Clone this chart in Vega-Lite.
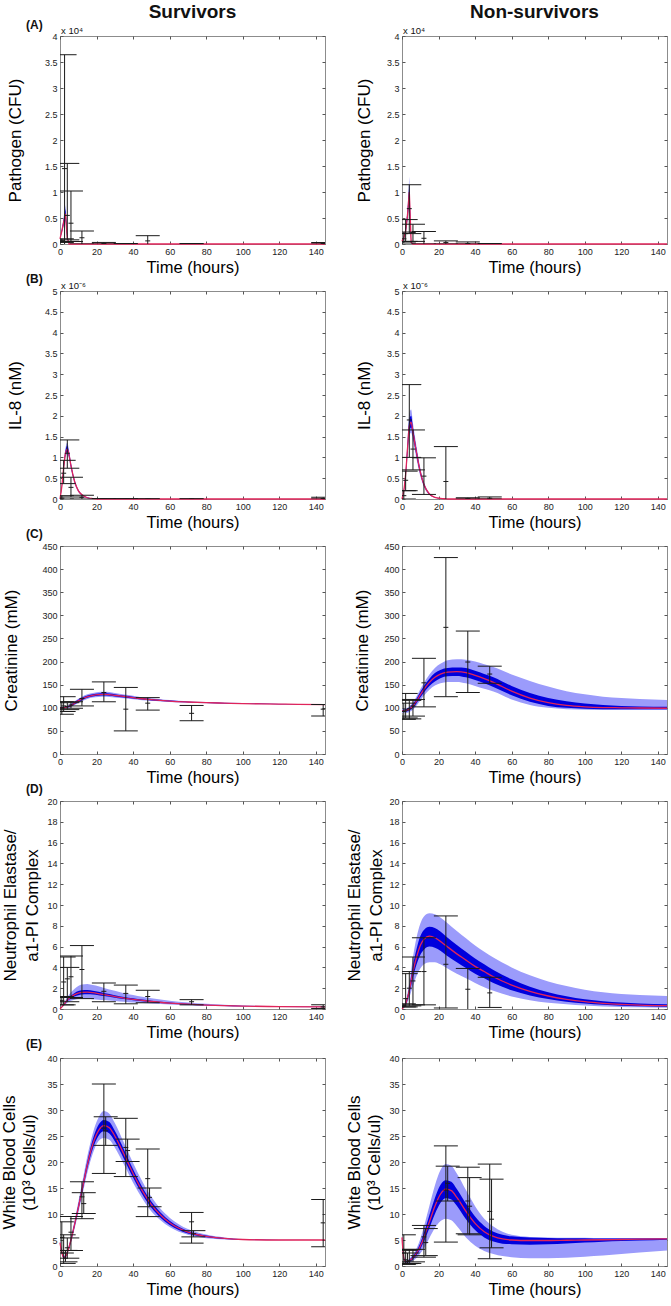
{
"$schema": "https://vega.github.io/schema/vega-lite/v6.json",
"background": "white",
"padding": {"left": 0, "top": 2, "right": 0, "bottom": 0},
"config": {
 "font": "Liberation Sans",
 "view": {"stroke": "#8c8c8c", "strokeWidth": 1},
 "axis": {"domain": false, "grid": false, "tickSize": -3, "tickColor": "#555", "labelFont": "Liberation Sans", "labelFontSize": 9, "labelColor": "#222", "labelPadding": 6, "labelFlush": false, "titleFont": "Liberation Sans", "titleFontSize": 17, "titleFontWeight": "normal", "titleColor": "#000"},
 "axisX": {"titleFontSize": 16.5, "titlePadding": 3, "titleFontWeight": "normal"},
 "axisY": {"titleFontWeight": "normal"},
 "text": {"font": "Liberation Sans", "color": "#111"},
 "tick": {"color": "#1a1a1a", "thickness": 1, "opacity": 1},
 "rule": {"color": "#1a1a1a", "strokeWidth": 1}
},
"datasets": {
 "curves": [
  {"p":"A1","t":0,"m":0.1,"il":0.1,"ih":0.1,"ol":0.09,"oh":0.11},
  {"p":"A1","t":1,"m":0.25,"il":0.23,"ih":0.27,"ol":0.21,"oh":0.29},
  {"p":"A1","t":2,"m":0.42,"il":0.38,"ih":0.47,"ol":0.34,"oh":0.52},
  {"p":"A1","t":3,"m":0.58,"il":0.5,"ih":0.68,"ol":0.45,"oh":0.75},
  {"p":"A1","t":4,"m":0.12,"il":0.1,"ih":0.15,"ol":0.08,"oh":0.18},
  {"p":"A1","t":5,"m":0,"il":0,"ih":0,"ol":0,"oh":0.01},
  {"p":"A1","t":6,"m":0,"il":0,"ih":0,"ol":0,"oh":0},
  {"p":"A1","t":20,"m":0,"il":0,"ih":0,"ol":0,"oh":0},
  {"p":"A1","t":145,"m":0,"il":0,"ih":0,"ol":0,"oh":0},
  {"p":"A2","t":0,"m":0.05,"il":0.05,"ih":0.05,"ol":0.04,"oh":0.06},
  {"p":"A2","t":1,"m":0.12,"il":0.11,"ih":0.13,"ol":0.1,"oh":0.14},
  {"p":"A2","t":2,"m":0.25,"il":0.22,"ih":0.28,"ol":0.2,"oh":0.3},
  {"p":"A2","t":3,"m":0.55,"il":0.48,"ih":0.62,"ol":0.44,"oh":0.68},
  {"p":"A2","t":4,"m":1.0,"il":0.88,"ih":1.15,"ol":0.8,"oh":1.3},
  {"p":"A2","t":5,"m":0.03,"il":0.02,"ih":0.05,"ol":0.01,"oh":0.07},
  {"p":"A2","t":6,"m":0,"il":0,"ih":0,"ol":0,"oh":0},
  {"p":"A2","t":20,"m":0,"il":0,"ih":0,"ol":0,"oh":0},
  {"p":"A2","t":145,"m":0,"il":0,"ih":0,"ol":0,"oh":0},
  {"p":"B1","t":0,"m":0,"il":0,"ih":0,"ol":0,"oh":0},
  {"p":"B1","t":1,"m":0.3,"il":0.28,"ih":0.32,"ol":0.26,"oh":0.34},
  {"p":"B1","t":2,"m":0.75,"il":0.72,"ih":0.79,"ol":0.69,"oh":0.82},
  {"p":"B1","t":3,"m":1.1,"il":1.05,"ih":1.16,"ol":1.0,"oh":1.22},
  {"p":"B1","t":4,"m":1.2,"il":1.13,"ih":1.28,"ol":1.08,"oh":1.35},
  {"p":"B1","t":5,"m":1.05,"il":1.0,"ih":1.11,"ol":0.95,"oh":1.16},
  {"p":"B1","t":6,"m":0.8,"il":0.76,"ih":0.85,"ol":0.72,"oh":0.88},
  {"p":"B1","t":8,"m":0.42,"il":0.4,"ih":0.45,"ol":0.37,"oh":0.47},
  {"p":"B1","t":10,"m":0.2,"il":0.19,"ih":0.22,"ol":0.17,"oh":0.23},
  {"p":"B1","t":12,"m":0.1,"il":0.09,"ih":0.11,"ol":0.08,"oh":0.12},
  {"p":"B1","t":15,"m":0.03,"il":0.03,"ih":0.04,"ol":0.02,"oh":0.04},
  {"p":"B1","t":18,"m":0.01,"il":0.01,"ih":0.01,"ol":0.005,"oh":0.015},
  {"p":"B1","t":21,"m":0,"il":0,"ih":0,"ol":0,"oh":0},
  {"p":"B1","t":145,"m":0,"il":0,"ih":0,"ol":0,"oh":0},
  {"p":"B2","t":0,"m":0,"il":0,"ih":0,"ol":0,"oh":0},
  {"p":"B2","t":1,"m":0.2,"il":0.18,"ih":0.22,"ol":0.16,"oh":0.24},
  {"p":"B2","t":2,"m":0.6,"il":0.55,"ih":0.65,"ol":0.5,"oh":0.7},
  {"p":"B2","t":3,"m":1.2,"il":1.1,"ih":1.3,"ol":1.0,"oh":1.4},
  {"p":"B2","t":4,"m":1.75,"il":1.62,"ih":1.9,"ol":1.5,"oh":2.05},
  {"p":"B2","t":5,"m":1.85,"il":1.72,"ih":2.0,"ol":1.6,"oh":2.15},
  {"p":"B2","t":6,"m":1.6,"il":1.5,"ih":1.72,"ol":1.4,"oh":1.82},
  {"p":"B2","t":8,"m":1.1,"il":1.02,"ih":1.18,"ol":0.95,"oh":1.25},
  {"p":"B2","t":10,"m":0.65,"il":0.6,"ih":0.7,"ol":0.55,"oh":0.75},
  {"p":"B2","t":12,"m":0.35,"il":0.32,"ih":0.38,"ol":0.29,"oh":0.41},
  {"p":"B2","t":15,"m":0.12,"il":0.11,"ih":0.13,"ol":0.1,"oh":0.14},
  {"p":"B2","t":18,"m":0.04,"il":0.035,"ih":0.045,"ol":0.03,"oh":0.05},
  {"p":"B2","t":21,"m":0.015,"il":0.01,"ih":0.02,"ol":0.01,"oh":0.02},
  {"p":"B2","t":24,"m":0.005,"il":0.005,"ih":0.005,"ol":0.005,"oh":0.005},
  {"p":"B2","t":27,"m":0,"il":0,"ih":0,"ol":0,"oh":0},
  {"p":"B2","t":145,"m":0,"il":0,"ih":0,"ol":0,"oh":0},
  {"p":"C1","t":0,"m":100,"il":99.5,"ih":100.5,"ol":99,"oh":101},
  {"p":"C1","t":2,"m":100.5,"il":99.5,"ih":101.5,"ol":98.5,"oh":102.5},
  {"p":"C1","t":4,"m":102,"il":100.5,"ih":103.5,"ol":99.5,"oh":104.5},
  {"p":"C1","t":6,"m":105,"il":103,"ih":107,"ol":101.5,"oh":108.5},
  {"p":"C1","t":8,"m":110,"il":107.5,"ih":112.5,"ol":106,"oh":114},
  {"p":"C1","t":10,"m":115,"il":112.5,"ih":117.5,"ol":110.5,"oh":119.5},
  {"p":"C1","t":12,"m":119,"il":116.5,"ih":121.5,"ol":114,"oh":124},
  {"p":"C1","t":15,"m":124,"il":121.5,"ih":126.5,"ol":119,"oh":129},
  {"p":"C1","t":18,"m":127,"il":124.5,"ih":129.5,"ol":122,"oh":132},
  {"p":"C1","t":21,"m":128.5,"il":126,"ih":131,"ol":123.5,"oh":134},
  {"p":"C1","t":24,"m":129,"il":126.5,"ih":131.5,"ol":124,"oh":134.5},
  {"p":"C1","t":27,"m":128.5,"il":126,"ih":131,"ol":123.5,"oh":134},
  {"p":"C1","t":30,"m":127,"il":124.5,"ih":129.5,"ol":122.5,"oh":132},
  {"p":"C1","t":35,"m":124.5,"il":122.5,"ih":126.5,"ol":120.5,"oh":128.5},
  {"p":"C1","t":40,"m":122,"il":120,"ih":124,"ol":118.5,"oh":126},
  {"p":"C1","t":45,"m":119.5,"il":118,"ih":121,"ol":116.5,"oh":122.5},
  {"p":"C1","t":50,"m":117.5,"il":116,"ih":119,"ol":115,"oh":120.5},
  {"p":"C1","t":55,"m":116,"il":114.8,"ih":117.2,"ol":113.8,"oh":118.5},
  {"p":"C1","t":60,"m":114.5,"il":113.5,"ih":115.5,"ol":112.5,"oh":116.8},
  {"p":"C1","t":70,"m":112.5,"il":111.7,"ih":113.3,"ol":111,"oh":114.2},
  {"p":"C1","t":80,"m":111,"il":110.3,"ih":111.7,"ol":109.7,"oh":112.5},
  {"p":"C1","t":90,"m":110,"il":109.4,"ih":110.6,"ol":108.8,"oh":111.3},
  {"p":"C1","t":100,"m":109,"il":108.5,"ih":109.5,"ol":108,"oh":110.2},
  {"p":"C1","t":110,"m":108.5,"il":108,"ih":109,"ol":107.6,"oh":109.5},
  {"p":"C1","t":120,"m":108,"il":107.6,"ih":108.4,"ol":107.2,"oh":108.9},
  {"p":"C1","t":130,"m":107.5,"il":107.1,"ih":107.9,"ol":106.8,"oh":108.3},
  {"p":"C1","t":145,"m":107,"il":106.7,"ih":107.3,"ol":106.4,"oh":107.6},
  {"p":"C2","t":0,"m":93,"il":91,"ih":95,"ol":89,"oh":97},
  {"p":"C2","t":2,"m":94,"il":91.5,"ih":96.5,"ol":89,"oh":99},
  {"p":"C2","t":4,"m":97,"il":94,"ih":100,"ol":91,"oh":103},
  {"p":"C2","t":6,"m":104,"il":100,"ih":108,"ol":96,"oh":112},
  {"p":"C2","t":8,"m":115,"il":110,"ih":120,"ol":105,"oh":125},
  {"p":"C2","t":10,"m":128,"il":122,"ih":134,"ol":116,"oh":140},
  {"p":"C2","t":12,"m":140,"il":133,"ih":147,"ol":126,"oh":154},
  {"p":"C2","t":15,"m":155,"il":147,"ih":163,"ol":139,"oh":172},
  {"p":"C2","t":18,"m":166,"il":157,"ih":175,"ol":148,"oh":186},
  {"p":"C2","t":21,"m":173,"il":164,"ih":182,"ol":153,"oh":195},
  {"p":"C2","t":25,"m":177,"il":168,"ih":186,"ol":156,"oh":203},
  {"p":"C2","t":30,"m":178,"il":169,"ih":187,"ol":156,"oh":205},
  {"p":"C2","t":35,"m":176,"il":166,"ih":186,"ol":153,"oh":204},
  {"p":"C2","t":40,"m":170,"il":160,"ih":180,"ol":147,"oh":200},
  {"p":"C2","t":45,"m":163,"il":153,"ih":173,"ol":141,"oh":194},
  {"p":"C2","t":50,"m":155,"il":145,"ih":166,"ol":135,"oh":188},
  {"p":"C2","t":60,"m":136,"il":127,"ih":147,"ol":118,"oh":172},
  {"p":"C2","t":70,"m":121,"il":113,"ih":132,"ol":106,"oh":158},
  {"p":"C2","t":80,"m":111,"il":104,"ih":121,"ol":100,"oh":146},
  {"p":"C2","t":90,"m":105,"il":100,"ih":114,"ol":97,"oh":136},
  {"p":"C2","t":100,"m":102,"il":98,"ih":109,"ol":96,"oh":129},
  {"p":"C2","t":110,"m":100.5,"il":97,"ih":106,"ol":95,"oh":124},
  {"p":"C2","t":120,"m":100,"il":97,"ih":104,"ol":95,"oh":121},
  {"p":"C2","t":130,"m":99.5,"il":97,"ih":103,"ol":95,"oh":119},
  {"p":"C2","t":145,"m":99,"il":97,"ih":102,"ol":95,"oh":117},
  {"p":"D1","t":0,"m":0,"il":0,"ih":0,"ol":0,"oh":0},
  {"p":"D1","t":2,"m":0.4,"il":0.35,"ih":0.45,"ol":0.3,"oh":0.5},
  {"p":"D1","t":4,"m":0.85,"il":0.75,"ih":0.95,"ol":0.6,"oh":1.15},
  {"p":"D1","t":6,"m":1.15,"il":1.0,"ih":1.3,"ol":0.8,"oh":1.6},
  {"p":"D1","t":8,"m":1.38,"il":1.2,"ih":1.55,"ol":0.9,"oh":1.95},
  {"p":"D1","t":10,"m":1.52,"il":1.33,"ih":1.72,"ol":0.95,"oh":2.2},
  {"p":"D1","t":12,"m":1.6,"il":1.4,"ih":1.8,"ol":0.95,"oh":2.35},
  {"p":"D1","t":15,"m":1.62,"il":1.43,"ih":1.82,"ol":0.95,"oh":2.4},
  {"p":"D1","t":18,"m":1.57,"il":1.4,"ih":1.75,"ol":0.93,"oh":2.3},
  {"p":"D1","t":21,"m":1.48,"il":1.33,"ih":1.65,"ol":0.9,"oh":2.18},
  {"p":"D1","t":24,"m":1.38,"il":1.24,"ih":1.53,"ol":0.86,"oh":2.03},
  {"p":"D1","t":30,"m":1.2,"il":1.08,"ih":1.33,"ol":0.78,"oh":1.75},
  {"p":"D1","t":35,"m":1.05,"il":0.95,"ih":1.16,"ol":0.7,"oh":1.52},
  {"p":"D1","t":40,"m":0.93,"il":0.84,"ih":1.03,"ol":0.63,"oh":1.35},
  {"p":"D1","t":45,"m":0.82,"il":0.74,"ih":0.91,"ol":0.57,"oh":1.18},
  {"p":"D1","t":50,"m":0.72,"il":0.65,"ih":0.8,"ol":0.52,"oh":1.03},
  {"p":"D1","t":60,"m":0.57,"il":0.52,"ih":0.63,"ol":0.43,"oh":0.8},
  {"p":"D1","t":70,"m":0.46,"il":0.42,"ih":0.51,"ol":0.36,"oh":0.63},
  {"p":"D1","t":80,"m":0.38,"il":0.35,"ih":0.42,"ol":0.31,"oh":0.51},
  {"p":"D1","t":90,"m":0.32,"il":0.3,"ih":0.35,"ol":0.27,"oh":0.42},
  {"p":"D1","t":100,"m":0.28,"il":0.26,"ih":0.3,"ol":0.24,"oh":0.35},
  {"p":"D1","t":120,"m":0.23,"il":0.22,"ih":0.24,"ol":0.2,"oh":0.27},
  {"p":"D1","t":145,"m":0.2,"il":0.19,"ih":0.21,"ol":0.18,"oh":0.23},
  {"p":"D2","t":0,"m":0,"il":0,"ih":0,"ol":0,"oh":0},
  {"p":"D2","t":2,"m":0.5,"il":0.4,"ih":0.6,"ol":0.3,"oh":0.7},
  {"p":"D2","t":4,"m":1.8,"il":1.5,"ih":2.1,"ol":1.1,"oh":2.5},
  {"p":"D2","t":6,"m":3.6,"il":3.0,"ih":4.2,"ol":2.2,"oh":5.0},
  {"p":"D2","t":8,"m":5.0,"il":4.3,"ih":5.8,"ol":3.2,"oh":6.9},
  {"p":"D2","t":10,"m":6.1,"il":5.2,"ih":7.0,"ol":3.9,"oh":8.2},
  {"p":"D2","t":12,"m":6.7,"il":5.7,"ih":7.6,"ol":4.3,"oh":8.9},
  {"p":"D2","t":15,"m":7.0,"il":6.0,"ih":7.9,"ol":4.5,"oh":9.2},
  {"p":"D2","t":18,"m":6.85,"il":5.9,"ih":7.8,"ol":4.5,"oh":9.1},
  {"p":"D2","t":21,"m":6.5,"il":5.6,"ih":7.45,"ol":4.3,"oh":8.8},
  {"p":"D2","t":24,"m":6.1,"il":5.2,"ih":7.0,"ol":4.0,"oh":8.4},
  {"p":"D2","t":30,"m":5.3,"il":4.5,"ih":6.15,"ol":3.4,"oh":7.5},
  {"p":"D2","t":35,"m":4.7,"il":3.95,"ih":5.5,"ol":2.95,"oh":6.8},
  {"p":"D2","t":40,"m":4.1,"il":3.4,"ih":4.85,"ol":2.5,"oh":6.1},
  {"p":"D2","t":45,"m":3.6,"il":2.95,"ih":4.3,"ol":2.1,"oh":5.5},
  {"p":"D2","t":50,"m":3.1,"il":2.5,"ih":3.75,"ol":1.75,"oh":4.95},
  {"p":"D2","t":60,"m":2.3,"il":1.8,"ih":2.85,"ol":1.2,"oh":4.0},
  {"p":"D2","t":70,"m":1.7,"il":1.3,"ih":2.15,"ol":0.85,"oh":3.25},
  {"p":"D2","t":80,"m":1.25,"il":0.95,"ih":1.62,"ol":0.6,"oh":2.65},
  {"p":"D2","t":90,"m":0.93,"il":0.7,"ih":1.22,"ol":0.45,"oh":2.2},
  {"p":"D2","t":100,"m":0.7,"il":0.52,"ih":0.93,"ol":0.33,"oh":1.85},
  {"p":"D2","t":110,"m":0.55,"il":0.4,"ih":0.75,"ol":0.25,"oh":1.6},
  {"p":"D2","t":120,"m":0.45,"il":0.32,"ih":0.62,"ol":0.2,"oh":1.45},
  {"p":"D2","t":130,"m":0.38,"il":0.27,"ih":0.53,"ol":0.16,"oh":1.35},
  {"p":"D2","t":145,"m":0.32,"il":0.22,"ih":0.45,"ol":0.12,"oh":1.25},
  {"p":"E1","t":0,"m":4.5,"il":4.3,"ih":4.7,"ol":4.1,"oh":4.9},
  {"p":"E1","t":1,"m":2.6,"il":2.4,"ih":2.8,"ol":2.2,"oh":3.0},
  {"p":"E1","t":2,"m":1.7,"il":1.55,"ih":1.85,"ol":1.4,"oh":2.0},
  {"p":"E1","t":3,"m":1.8,"il":1.65,"ih":1.95,"ol":1.5,"oh":2.1},
  {"p":"E1","t":4,"m":2.6,"il":2.4,"ih":2.8,"ol":2.2,"oh":3.0},
  {"p":"E1","t":6,"m":5.0,"il":4.7,"ih":5.3,"ol":4.4,"oh":5.6},
  {"p":"E1","t":8,"m":8.0,"il":7.6,"ih":8.4,"ol":7.2,"oh":8.8},
  {"p":"E1","t":10,"m":11.2,"il":10.7,"ih":11.7,"ol":10.2,"oh":12.3},
  {"p":"E1","t":12,"m":14.5,"il":13.9,"ih":15.1,"ol":13.3,"oh":15.8},
  {"p":"E1","t":15,"m":19.5,"il":18.8,"ih":20.2,"ol":18.0,"oh":21.2},
  {"p":"E1","t":18,"m":23.5,"il":22.6,"ih":24.4,"ol":21.7,"oh":25.6},
  {"p":"E1","t":21,"m":26.0,"il":25.0,"ih":27.1,"ol":24.0,"oh":28.5},
  {"p":"E1","t":24,"m":27.0,"il":25.9,"ih":28.1,"ol":24.6,"oh":29.8},
  {"p":"E1","t":27,"m":26.6,"il":25.5,"ih":27.7,"ol":24.3,"oh":29.3},
  {"p":"E1","t":30,"m":25.0,"il":24.0,"ih":26.0,"ol":22.8,"oh":27.5},
  {"p":"E1","t":35,"m":21.5,"il":20.6,"ih":22.4,"ol":19.5,"oh":23.7},
  {"p":"E1","t":40,"m":17.8,"il":17.0,"ih":18.6,"ol":16.0,"oh":19.8},
  {"p":"E1","t":45,"m":14.5,"il":13.8,"ih":15.2,"ol":13.0,"oh":16.3},
  {"p":"E1","t":50,"m":11.8,"il":11.2,"ih":12.4,"ol":10.5,"oh":13.3},
  {"p":"E1","t":55,"m":9.8,"il":9.3,"ih":10.3,"ol":8.8,"oh":11.0},
  {"p":"E1","t":60,"m":8.3,"il":7.9,"ih":8.7,"ol":7.5,"oh":9.3},
  {"p":"E1","t":70,"m":6.5,"il":6.25,"ih":6.75,"ol":6.0,"oh":7.1},
  {"p":"E1","t":80,"m":5.7,"il":5.55,"ih":5.85,"ol":5.35,"oh":6.05},
  {"p":"E1","t":90,"m":5.3,"il":5.2,"ih":5.4,"ol":5.1,"oh":5.5},
  {"p":"E1","t":100,"m":5.1,"il":5.05,"ih":5.15,"ol":5.0,"oh":5.2},
  {"p":"E1","t":120,"m":5.0,"il":4.98,"ih":5.02,"ol":4.95,"oh":5.05},
  {"p":"E1","t":145,"m":5.0,"il":4.99,"ih":5.01,"ol":4.98,"oh":5.02},
  {"p":"E2","t":0,"m":5.5,"il":5.3,"ih":5.7,"ol":5.1,"oh":5.9},
  {"p":"E2","t":1,"m":1.5,"il":1.3,"ih":1.7,"ol":1.1,"oh":1.9},
  {"p":"E2","t":2,"m":0.8,"il":0.65,"ih":0.95,"ol":0.5,"oh":1.1},
  {"p":"E2","t":4,"m":1.0,"il":0.8,"ih":1.2,"ol":0.6,"oh":1.4},
  {"p":"E2","t":6,"m":1.6,"il":1.3,"ih":1.9,"ol":1.0,"oh":2.2},
  {"p":"E2","t":8,"m":2.5,"il":2.1,"ih":2.9,"ol":1.6,"oh":3.4},
  {"p":"E2","t":10,"m":3.8,"il":3.2,"ih":4.4,"ol":2.4,"oh":5.2},
  {"p":"E2","t":12,"m":5.5,"il":4.7,"ih":6.4,"ol":3.4,"oh":7.6},
  {"p":"E2","t":15,"m":8.5,"il":7.3,"ih":9.8,"ol":5.4,"oh":11.6},
  {"p":"E2","t":18,"m":11.5,"il":10.0,"ih":13.1,"ol":7.3,"oh":15.5},
  {"p":"E2","t":21,"m":13.8,"il":12.1,"ih":15.6,"ol":8.6,"oh":18.4},
  {"p":"E2","t":24,"m":14.8,"il":13.1,"ih":16.5,"ol":9.1,"oh":19.6},
  {"p":"E2","t":27,"m":14.5,"il":12.8,"ih":16.2,"ol":8.8,"oh":19.3},
  {"p":"E2","t":30,"m":13.2,"il":11.6,"ih":14.8,"ol":7.7,"oh":17.8},
  {"p":"E2","t":35,"m":10.5,"il":9.0,"ih":12.0,"ol":5.5,"oh":14.6},
  {"p":"E2","t":40,"m":8.2,"il":6.9,"ih":9.5,"ol":3.9,"oh":11.5},
  {"p":"E2","t":45,"m":6.6,"il":5.5,"ih":7.7,"ol":2.9,"oh":9.1},
  {"p":"E2","t":50,"m":5.7,"il":4.7,"ih":6.6,"ol":2.3,"oh":7.6},
  {"p":"E2","t":55,"m":5.2,"il":4.3,"ih":6.0,"ol":1.9,"oh":6.6},
  {"p":"E2","t":60,"m":5.0,"il":4.2,"ih":5.7,"ol":1.7,"oh":6.0},
  {"p":"E2","t":70,"m":4.9,"il":4.1,"ih":5.5,"ol":1.5,"oh":5.6},
  {"p":"E2","t":80,"m":4.9,"il":4.2,"ih":5.4,"ol":1.5,"oh":5.5},
  {"p":"E2","t":90,"m":4.95,"il":4.35,"ih":5.35,"ol":1.6,"oh":5.45},
  {"p":"E2","t":100,"m":5.0,"il":4.5,"ih":5.35,"ol":1.8,"oh":5.45},
  {"p":"E2","t":110,"m":5.05,"il":4.65,"ih":5.3,"ol":2.0,"oh":5.4},
  {"p":"E2","t":120,"m":5.1,"il":4.8,"ih":5.3,"ol":2.3,"oh":5.4},
  {"p":"E2","t":130,"m":5.15,"il":4.9,"ih":5.3,"ol":2.6,"oh":5.4},
  {"p":"E2","t":145,"m":5.2,"il":5.05,"ih":5.3,"ol":3.0,"oh":5.4}
 ],
 "errs": [
  {"p":"A1","t":1,"m":0.07,"lo":0.03,"hi":0.1},
  {"p":"A1","t":2.5,"m":1.45,"lo":-0.75,"hi":3.64},
  {"p":"A1","t":4,"m":0.55,"lo":0.08,"hi":1.55},
  {"p":"A1","t":6,"m":0.4,"lo":0.05,"hi":1.02},
  {"p":"A1","t":12,"m":0.12,"lo":0,"hi":0.25},
  {"p":"A1","t":24,"m":0.01,"lo":0,"hi":0.03},
  {"p":"A1","t":36,"m":0,"lo":0,"hi":0.01},
  {"p":"A1","t":48,"m":0.06,"lo":-0.05,"hi":0.16},
  {"p":"A1","t":72,"m":0,"lo":0,"hi":0.01},
  {"p":"A1","t":144,"m":0.01,"lo":0,"hi":0.03},
  {"p":"A2","t":1,"m":0.1,"lo":0.02,"hi":0.23},
  {"p":"A2","t":2,"m":0.2,"lo":0.05,"hi":0.47},
  {"p":"A2","t":4,"m":0.68,"lo":0.2,"hi":1.14},
  {"p":"A2","t":6,"m":0.22,"lo":0.05,"hi":0.38},
  {"p":"A2","t":12,"m":0.11,"lo":0,"hi":0.24},
  {"p":"A2","t":24,"m":0.03,"lo":0,"hi":0.06},
  {"p":"A2","t":36,"m":0.01,"lo":0,"hi":0.04},
  {"p":"A2","t":48,"m":0,"lo":0,"hi":0.01},
  {"p":"B1","t":1,"m":0.02,"lo":0,"hi":0.08},
  {"p":"B1","t":2,"m":0.62,"lo":0.37,"hi":0.93},
  {"p":"B1","t":4,"m":1.1,"lo":0.74,"hi":1.42},
  {"p":"B1","t":6,"m":0.28,"lo":0.05,"hi":0.52},
  {"p":"B1","t":12,"m":0.04,"lo":0,"hi":0.09},
  {"p":"B1","t":24,"m":0,"lo":0,"hi":0.01},
  {"p":"B1","t":36,"m":0,"lo":0,"hi":0.01},
  {"p":"B1","t":48,"m":0,"lo":0,"hi":0.005},
  {"p":"B1","t":72,"m":0,"lo":0,"hi":0.005},
  {"p":"B1","t":144,"m":0.01,"lo":0,"hi":0.04},
  {"p":"B2","t":1,"m":0.08,"lo":0,"hi":0.2},
  {"p":"B2","t":2,"m":0.45,"lo":0.2,"hi":0.67},
  {"p":"B2","t":4,"m":1.9,"lo":1.0,"hi":2.75},
  {"p":"B2","t":6,"m":1.2,"lo":0.7,"hi":1.66},
  {"p":"B2","t":12,"m":0.55,"lo":0.11,"hi":0.99},
  {"p":"B2","t":24,"m":0.42,"lo":-0.4,"hi":1.26},
  {"p":"B2","t":36,"m":0.01,"lo":0,"hi":0.03},
  {"p":"B2","t":48,"m":0.02,"lo":0,"hi":0.05},
  {"p":"C1","t":1,"m":100,"lo":86,"hi":113},
  {"p":"C1","t":2,"m":104,"lo":92,"hi":124},
  {"p":"C1","t":4,"m":103,"lo":96,"hi":111},
  {"p":"C1","t":6,"m":106,"lo":99,"hi":113},
  {"p":"C1","t":12,"m":120,"lo":104,"hi":140},
  {"p":"C1","t":24,"m":133,"lo":113,"hi":156},
  {"p":"C1","t":36,"m":97,"lo":50,"hi":144},
  {"p":"C1","t":48,"m":110,"lo":95,"hi":122},
  {"p":"C1","t":72,"m":88,"lo":72,"hi":105},
  {"p":"C1","t":144,"m":97,"lo":82,"hi":107},
  {"p":"C2","t":1,"m":92,"lo":75,"hi":110},
  {"p":"C2","t":2,"m":95,"lo":78,"hi":131},
  {"p":"C2","t":4,"m":98,"lo":76,"hi":116},
  {"p":"C2","t":6,"m":104,"lo":82,"hi":118},
  {"p":"C2","t":12,"m":154,"lo":102,"hi":207},
  {"p":"C2","t":24,"m":274,"lo":124,"hi":425},
  {"p":"C2","t":36,"m":199,"lo":133,"hi":266},
  {"p":"C2","t":48,"m":173,"lo":153,"hi":190},
  {"p":"D1","t":1,"m":0.8,"lo":0.4,"hi":1.2},
  {"p":"D1","t":2,"m":2.6,"lo":0.4,"hi":5.0},
  {"p":"D1","t":4,"m":2.9,"lo":0.7,"hi":4.0},
  {"p":"D1","t":6,"m":3.1,"lo":1.1,"hi":5.1},
  {"p":"D1","t":12,"m":3.8,"lo":1.0,"hi":6.1},
  {"p":"D1","t":24,"m":1.7,"lo":0.7,"hi":2.5},
  {"p":"D1","t":36,"m":1.5,"lo":0.5,"hi":2.3},
  {"p":"D1","t":48,"m":1.2,"lo":0.6,"hi":1.8},
  {"p":"D1","t":72,"m":0.7,"lo":0.4,"hi":0.9},
  {"p":"D1","t":144,"m":0.2,"lo":0.05,"hi":0.4},
  {"p":"D2","t":1,"m":0.3,"lo":0.2,"hi":0.5},
  {"p":"D2","t":2,"m":1.0,"lo":0.2,"hi":3.4},
  {"p":"D2","t":4,"m":2.0,"lo":0.3,"hi":3.6},
  {"p":"D2","t":6,"m":2.7,"lo":0.4,"hi":5.0},
  {"p":"D2","t":12,"m":3.6,"lo":0.4,"hi":6.85},
  {"p":"D2","t":24,"m":4.3,"lo":0.1,"hi":8.95},
  {"p":"D2","t":36,"m":1.9,"lo":-0.2,"hi":3.9},
  {"p":"D2","t":48,"m":1.55,"lo":0.15,"hi":3.05},
  {"p":"E1","t":1,"m":5.5,"lo":2.5,"hi":8.5},
  {"p":"E1","t":2,"m":2.5,"lo":0.5,"hi":6.0},
  {"p":"E1","t":3,"m":1.5,"lo":0.8,"hi":3.0},
  {"p":"E1","t":4,"m":3.5,"lo":1.5,"hi":5.4},
  {"p":"E1","t":6,"m":6.5,"lo":3.0,"hi":9.5},
  {"p":"E1","t":12,"m":13.3,"lo":9.1,"hi":16.2},
  {"p":"E1","t":13,"m":12.0,"lo":10.1,"hi":14.1},
  {"p":"E1","t":24,"m":26.5,"lo":17.8,"hi":35.0},
  {"p":"E1","t":25,"m":26.0,"lo":23.2,"hi":28.7},
  {"p":"E1","t":36,"m":22.8,"lo":17.2,"hi":28.4},
  {"p":"E1","t":37,"m":22.2,"lo":20.1,"hi":24.4},
  {"p":"E1","t":48,"m":16.8,"lo":9.5,"hi":22.5},
  {"p":"E1","t":49,"m":13.2,"lo":11.4,"hi":15.0},
  {"p":"E1","t":72,"m":8.5,"lo":4.4,"hi":10.3},
  {"p":"E1","t":73,"m":6.2,"lo":5.6,"hi":6.8},
  {"p":"E1","t":144,"m":8.3,"lo":3.7,"hi":12.8},
  {"p":"E2","t":1,"m":2.5,"lo":0.3,"hi":6.0},
  {"p":"E2","t":2,"m":1.2,"lo":0.45,"hi":3.0},
  {"p":"E2","t":3,"m":0.9,"lo":0.5,"hi":2.5},
  {"p":"E2","t":4,"m":1.0,"lo":0.5,"hi":3.2},
  {"p":"E2","t":6,"m":2.0,"lo":0.8,"hi":3.2},
  {"p":"E2","t":12,"m":5.6,"lo":1.7,"hi":7.8},
  {"p":"E2","t":13,"m":4.5,"lo":2.0,"hi":7.2},
  {"p":"E2","t":24,"m":14.6,"lo":4.6,"hi":23.1},
  {"p":"E2","t":25,"m":15.9,"lo":12.5,"hi":19.2},
  {"p":"E2","t":36,"m":12.5,"lo":6.2,"hi":19.0},
  {"p":"E2","t":37,"m":11.5,"lo":6.0,"hi":17.0},
  {"p":"E2","t":48,"m":10.5,"lo":1.4,"hi":19.6},
  {"p":"E2","t":49,"m":9.0,"lo":3.5,"hi":16.7}
 ]
},
"columns": 2,
"spacing": {"row": -4, "column": 16},
"concat": [
 {"width": 265, "height": 208, "resolve": {"axis": {"x": "independent", "y": "independent"}},
  "layer": [
   {"data": {"name": "curves"}, "transform": [{"filter": "datum.p=='A1'"}], "mark": {"type": "area", "color": "#9b9bfb", "interpolate": "linear"},
    "encoding": {"x": {"field": "t", "type": "quantitative", "scale": {"domain": [0,145]}, "axis": {"values": [0,20,40,60,80,100,120,140], "title": "Time (hours)"}},
     "y": {"field": "ol", "type": "quantitative", "scale": {"domain": [0,4]}, "axis": {"values": [0,0.5,1,1.5,2,2.5,3,3.5,4], "format": "~g", "title": "Pathogen (CFU)", "titlePadding": 20}}, "y2": {"field": "oh"}}},
   {"data": {"name": "curves"}, "transform": [{"filter": "datum.p=='A1'"}], "mark": {"type": "area", "color": "#0000dd", "interpolate": "linear"},
    "encoding": {"x": {"field": "t", "type": "quantitative", "scale": {"domain": [0,145]}, "axis": {"orient": "top", "values": [0,20,40,60,80,100,120,140], "labels": false, "title": null}},
     "y": {"field": "il", "type": "quantitative", "scale": {"domain": [0,4]}, "axis": {"orient": "right", "values": [0,0.5,1,1.5,2,2.5,3,3.5,4], "labels": false, "title": null}}, "y2": {"field": "ih"}}},
   {"data": {"name": "curves"}, "transform": [{"filter": "datum.p=='A1'"}], "mark": {"type": "line", "color": "#e0245a", "strokeWidth": 1.3, "interpolate": "linear"},
    "encoding": {"x": {"field": "t", "type": "quantitative", "scale": {"domain": [0,145]}, "axis": null}, "y": {"field": "m", "type": "quantitative", "scale": {"domain": [0,4]}, "axis": null}}},
   {"data": {"name": "errs"}, "transform": [{"filter": "datum.p=='A1'"}], "mark": {"type": "rule", "clip": true},
    "encoding": {"x": {"field": "t", "type": "quantitative", "scale": {"domain": [0,145]}, "axis": null}, "y": {"field": "lo", "type": "quantitative", "scale": {"domain": [0,4]}, "axis": null}, "y2": {"field": "hi"}}},
   {"data": {"name": "errs"}, "transform": [{"filter": "datum.p=='A1'"}], "mark": {"type": "tick", "orient": "horizontal", "size": 24, "clip": true},
    "encoding": {"x": {"field": "t", "type": "quantitative", "scale": {"domain": [0,145]}, "axis": null}, "y": {"field": "lo", "type": "quantitative", "scale": {"domain": [0,4]}, "axis": null}}},
   {"data": {"name": "errs"}, "transform": [{"filter": "datum.p=='A1'"}], "mark": {"type": "tick", "orient": "horizontal", "size": 24, "clip": true},
    "encoding": {"x": {"field": "t", "type": "quantitative", "scale": {"domain": [0,145]}, "axis": null}, "y": {"field": "hi", "type": "quantitative", "scale": {"domain": [0,4]}, "axis": null}}},
   {"data": {"name": "errs"}, "transform": [{"filter": "datum.p=='A1'"}], "mark": {"type": "tick", "orient": "horizontal", "size": 5, "clip": true},
    "encoding": {"x": {"field": "t", "type": "quantitative", "scale": {"domain": [0,145]}, "axis": null}, "y": {"field": "m", "type": "quantitative", "scale": {"domain": [0,4]}, "axis": null}}},
   {"data": {"values": [{}]}, "mark": {"type": "text", "align": "left", "baseline": "bottom", "fontSize": 9.5, "dx": 1},
    "encoding": {"x": {"datum": 0, "type": "quantitative", "scale": {"domain": [0,145]}, "axis": null}, "y": {"datum": 4, "type": "quantitative", "scale": {"domain": [0,4]}, "axis": null}, "text": {"value": "x 10⁴"}}},
   {"data": {"values": [{}]}, "mark": {"type": "text", "align": "left", "baseline": "bottom", "fontSize": 12, "fontWeight": "bold", "dx": -34, "dy": -4},
    "encoding": {"x": {"datum": 0, "type": "quantitative", "scale": {"domain": [0,145]}, "axis": null}, "y": {"datum": 4, "type": "quantitative", "scale": {"domain": [0,4]}, "axis": null}, "text": {"value": "(A)"}}},
   {"data": {"values": [{}]}, "mark": {"type": "text", "align": "center", "baseline": "alphabetic", "fontSize": 19, "fontWeight": "bold", "dy": -18},
    "encoding": {"x": {"datum": 72.5, "type": "quantitative", "scale": {"domain": [0,145]}, "axis": null}, "y": {"datum": 4, "type": "quantitative", "scale": {"domain": [0,4]}, "axis": null}, "text": {"value": "Survivors"}}}
  ]},
 {"width": 265, "height": 208, "resolve": {"axis": {"x": "independent", "y": "independent"}},
  "layer": [
   {"data": {"name": "curves"}, "transform": [{"filter": "datum.p=='A2'"}], "mark": {"type": "area", "color": "#9b9bfb", "interpolate": "linear"},
    "encoding": {"x": {"field": "t", "type": "quantitative", "scale": {"domain": [0,145]}, "axis": {"values": [0,20,40,60,80,100,120,140], "title": "Time (hours)"}},
     "y": {"field": "ol", "type": "quantitative", "scale": {"domain": [0,4]}, "axis": {"values": [0,0.5,1,1.5,2,2.5,3,3.5,4], "format": "~g", "title": "Pathogen (CFU)", "titlePadding": 13}}, "y2": {"field": "oh"}}},
   {"data": {"name": "curves"}, "transform": [{"filter": "datum.p=='A2'"}], "mark": {"type": "area", "color": "#0000dd", "interpolate": "linear"},
    "encoding": {"x": {"field": "t", "type": "quantitative", "scale": {"domain": [0,145]}, "axis": {"orient": "top", "values": [0,20,40,60,80,100,120,140], "labels": false, "title": null}},
     "y": {"field": "il", "type": "quantitative", "scale": {"domain": [0,4]}, "axis": {"orient": "right", "values": [0,0.5,1,1.5,2,2.5,3,3.5,4], "labels": false, "title": null}}, "y2": {"field": "ih"}}},
   {"data": {"name": "curves"}, "transform": [{"filter": "datum.p=='A2'"}], "mark": {"type": "line", "color": "#e0245a", "strokeWidth": 1.3, "interpolate": "linear"},
    "encoding": {"x": {"field": "t", "type": "quantitative", "scale": {"domain": [0,145]}, "axis": null}, "y": {"field": "m", "type": "quantitative", "scale": {"domain": [0,4]}, "axis": null}}},
   {"data": {"name": "errs"}, "transform": [{"filter": "datum.p=='A2'"}], "mark": {"type": "rule", "clip": true},
    "encoding": {"x": {"field": "t", "type": "quantitative", "scale": {"domain": [0,145]}, "axis": null}, "y": {"field": "lo", "type": "quantitative", "scale": {"domain": [0,4]}, "axis": null}, "y2": {"field": "hi"}}},
   {"data": {"name": "errs"}, "transform": [{"filter": "datum.p=='A2'"}], "mark": {"type": "tick", "orient": "horizontal", "size": 24, "clip": true},
    "encoding": {"x": {"field": "t", "type": "quantitative", "scale": {"domain": [0,145]}, "axis": null}, "y": {"field": "lo", "type": "quantitative", "scale": {"domain": [0,4]}, "axis": null}}},
   {"data": {"name": "errs"}, "transform": [{"filter": "datum.p=='A2'"}], "mark": {"type": "tick", "orient": "horizontal", "size": 24, "clip": true},
    "encoding": {"x": {"field": "t", "type": "quantitative", "scale": {"domain": [0,145]}, "axis": null}, "y": {"field": "hi", "type": "quantitative", "scale": {"domain": [0,4]}, "axis": null}}},
   {"data": {"name": "errs"}, "transform": [{"filter": "datum.p=='A2'"}], "mark": {"type": "tick", "orient": "horizontal", "size": 5, "clip": true},
    "encoding": {"x": {"field": "t", "type": "quantitative", "scale": {"domain": [0,145]}, "axis": null}, "y": {"field": "m", "type": "quantitative", "scale": {"domain": [0,4]}, "axis": null}}},
   {"data": {"values": [{}]}, "mark": {"type": "text", "align": "left", "baseline": "bottom", "fontSize": 9.5, "dx": 1},
    "encoding": {"x": {"datum": 0, "type": "quantitative", "scale": {"domain": [0,145]}, "axis": null}, "y": {"datum": 4, "type": "quantitative", "scale": {"domain": [0,4]}, "axis": null}, "text": {"value": "x 10⁴"}}},
   {"data": {"values": [{}]}, "mark": {"type": "text", "align": "center", "baseline": "alphabetic", "fontSize": 19, "fontWeight": "bold", "dy": -18},
    "encoding": {"x": {"datum": 72.5, "type": "quantitative", "scale": {"domain": [0,145]}, "axis": null}, "y": {"datum": 4, "type": "quantitative", "scale": {"domain": [0,4]}, "axis": null}, "text": {"value": "Non-survivors"}}}
  ]},
 {"width": 265, "height": 208, "resolve": {"axis": {"x": "independent", "y": "independent"}},
  "layer": [
   {"data": {"name": "curves"}, "transform": [{"filter": "datum.p=='B1'"}], "mark": {"type": "area", "color": "#9b9bfb", "interpolate": "monotone"},
    "encoding": {"x": {"field": "t", "type": "quantitative", "scale": {"domain": [0,145]}, "axis": {"values": [0,20,40,60,80,100,120,140], "title": "Time (hours)"}},
     "y": {"field": "ol", "type": "quantitative", "scale": {"domain": [0,5]}, "axis": {"values": [0,0.5,1,1.5,2,2.5,3,3.5,4,4.5,5], "format": "~g", "title": "IL-8 (nM)", "titlePadding": 20}}, "y2": {"field": "oh"}}},
   {"data": {"name": "curves"}, "transform": [{"filter": "datum.p=='B1'"}], "mark": {"type": "area", "color": "#0000dd", "interpolate": "monotone"},
    "encoding": {"x": {"field": "t", "type": "quantitative", "scale": {"domain": [0,145]}, "axis": {"orient": "top", "values": [0,20,40,60,80,100,120,140], "labels": false, "title": null}},
     "y": {"field": "il", "type": "quantitative", "scale": {"domain": [0,5]}, "axis": {"orient": "right", "values": [0,0.5,1,1.5,2,2.5,3,3.5,4,4.5,5], "labels": false, "title": null}}, "y2": {"field": "ih"}}},
   {"data": {"name": "curves"}, "transform": [{"filter": "datum.p=='B1'"}], "mark": {"type": "line", "color": "#e0245a", "strokeWidth": 1.3, "interpolate": "monotone"},
    "encoding": {"x": {"field": "t", "type": "quantitative", "scale": {"domain": [0,145]}, "axis": null}, "y": {"field": "m", "type": "quantitative", "scale": {"domain": [0,5]}, "axis": null}}},
   {"data": {"name": "errs"}, "transform": [{"filter": "datum.p=='B1'"}], "mark": {"type": "rule", "clip": true},
    "encoding": {"x": {"field": "t", "type": "quantitative", "scale": {"domain": [0,145]}, "axis": null}, "y": {"field": "lo", "type": "quantitative", "scale": {"domain": [0,5]}, "axis": null}, "y2": {"field": "hi"}}},
   {"data": {"name": "errs"}, "transform": [{"filter": "datum.p=='B1'"}], "mark": {"type": "tick", "orient": "horizontal", "size": 24, "clip": true},
    "encoding": {"x": {"field": "t", "type": "quantitative", "scale": {"domain": [0,145]}, "axis": null}, "y": {"field": "lo", "type": "quantitative", "scale": {"domain": [0,5]}, "axis": null}}},
   {"data": {"name": "errs"}, "transform": [{"filter": "datum.p=='B1'"}], "mark": {"type": "tick", "orient": "horizontal", "size": 24, "clip": true},
    "encoding": {"x": {"field": "t", "type": "quantitative", "scale": {"domain": [0,145]}, "axis": null}, "y": {"field": "hi", "type": "quantitative", "scale": {"domain": [0,5]}, "axis": null}}},
   {"data": {"name": "errs"}, "transform": [{"filter": "datum.p=='B1'"}], "mark": {"type": "tick", "orient": "horizontal", "size": 5, "clip": true},
    "encoding": {"x": {"field": "t", "type": "quantitative", "scale": {"domain": [0,145]}, "axis": null}, "y": {"field": "m", "type": "quantitative", "scale": {"domain": [0,5]}, "axis": null}}},
   {"data": {"values": [{}]}, "mark": {"type": "text", "align": "left", "baseline": "bottom", "fontSize": 9.5, "dx": 1},
    "encoding": {"x": {"datum": 0, "type": "quantitative", "scale": {"domain": [0,145]}, "axis": null}, "y": {"datum": 5, "type": "quantitative", "scale": {"domain": [0,5]}, "axis": null}, "text": {"value": "x 10⁻⁶"}}},
   {"data": {"values": [{}]}, "mark": {"type": "text", "align": "left", "baseline": "bottom", "fontSize": 12, "fontWeight": "bold", "dx": -34, "dy": -5},
    "encoding": {"x": {"datum": 0, "type": "quantitative", "scale": {"domain": [0,145]}, "axis": null}, "y": {"datum": 5, "type": "quantitative", "scale": {"domain": [0,5]}, "axis": null}, "text": {"value": "(B)"}}}
  ]},
 {"width": 265, "height": 208, "resolve": {"axis": {"x": "independent", "y": "independent"}},
  "layer": [
   {"data": {"name": "curves"}, "transform": [{"filter": "datum.p=='B2'"}], "mark": {"type": "area", "color": "#9b9bfb", "interpolate": "monotone"},
    "encoding": {"x": {"field": "t", "type": "quantitative", "scale": {"domain": [0,145]}, "axis": {"values": [0,20,40,60,80,100,120,140], "title": "Time (hours)"}},
     "y": {"field": "ol", "type": "quantitative", "scale": {"domain": [0,5]}, "axis": {"values": [0,0.5,1,1.5,2,2.5,3,3.5,4,4.5,5], "format": "~g", "title": "IL-8 (nM)", "titlePadding": 13}}, "y2": {"field": "oh"}}},
   {"data": {"name": "curves"}, "transform": [{"filter": "datum.p=='B2'"}], "mark": {"type": "area", "color": "#0000dd", "interpolate": "monotone"},
    "encoding": {"x": {"field": "t", "type": "quantitative", "scale": {"domain": [0,145]}, "axis": {"orient": "top", "values": [0,20,40,60,80,100,120,140], "labels": false, "title": null}},
     "y": {"field": "il", "type": "quantitative", "scale": {"domain": [0,5]}, "axis": {"orient": "right", "values": [0,0.5,1,1.5,2,2.5,3,3.5,4,4.5,5], "labels": false, "title": null}}, "y2": {"field": "ih"}}},
   {"data": {"name": "curves"}, "transform": [{"filter": "datum.p=='B2'"}], "mark": {"type": "line", "color": "#e0245a", "strokeWidth": 1.3, "interpolate": "monotone"},
    "encoding": {"x": {"field": "t", "type": "quantitative", "scale": {"domain": [0,145]}, "axis": null}, "y": {"field": "m", "type": "quantitative", "scale": {"domain": [0,5]}, "axis": null}}},
   {"data": {"name": "errs"}, "transform": [{"filter": "datum.p=='B2'"}], "mark": {"type": "rule", "clip": true},
    "encoding": {"x": {"field": "t", "type": "quantitative", "scale": {"domain": [0,145]}, "axis": null}, "y": {"field": "lo", "type": "quantitative", "scale": {"domain": [0,5]}, "axis": null}, "y2": {"field": "hi"}}},
   {"data": {"name": "errs"}, "transform": [{"filter": "datum.p=='B2'"}], "mark": {"type": "tick", "orient": "horizontal", "size": 24, "clip": true},
    "encoding": {"x": {"field": "t", "type": "quantitative", "scale": {"domain": [0,145]}, "axis": null}, "y": {"field": "lo", "type": "quantitative", "scale": {"domain": [0,5]}, "axis": null}}},
   {"data": {"name": "errs"}, "transform": [{"filter": "datum.p=='B2'"}], "mark": {"type": "tick", "orient": "horizontal", "size": 24, "clip": true},
    "encoding": {"x": {"field": "t", "type": "quantitative", "scale": {"domain": [0,145]}, "axis": null}, "y": {"field": "hi", "type": "quantitative", "scale": {"domain": [0,5]}, "axis": null}}},
   {"data": {"name": "errs"}, "transform": [{"filter": "datum.p=='B2'"}], "mark": {"type": "tick", "orient": "horizontal", "size": 5, "clip": true},
    "encoding": {"x": {"field": "t", "type": "quantitative", "scale": {"domain": [0,145]}, "axis": null}, "y": {"field": "m", "type": "quantitative", "scale": {"domain": [0,5]}, "axis": null}}},
   {"data": {"values": [{}]}, "mark": {"type": "text", "align": "left", "baseline": "bottom", "fontSize": 9.5, "dx": 1},
    "encoding": {"x": {"datum": 0, "type": "quantitative", "scale": {"domain": [0,145]}, "axis": null}, "y": {"datum": 5, "type": "quantitative", "scale": {"domain": [0,5]}, "axis": null}, "text": {"value": "x 10⁻⁶"}}}
  ]},
 {"width": 265, "height": 208, "resolve": {"axis": {"x": "independent", "y": "independent"}},
  "layer": [
   {"data": {"name": "curves"}, "transform": [{"filter": "datum.p=='C1'"}], "mark": {"type": "area", "color": "#9b9bfb", "interpolate": "monotone"},
    "encoding": {"x": {"field": "t", "type": "quantitative", "scale": {"domain": [0,145]}, "axis": {"values": [0,20,40,60,80,100,120,140], "title": "Time (hours)"}},
     "y": {"field": "ol", "type": "quantitative", "scale": {"domain": [0,450]}, "axis": {"values": [0,50,100,150,200,250,300,350,400,450], "title": "Creatinine (mM)", "titlePadding": 21}}, "y2": {"field": "oh"}}},
   {"data": {"name": "curves"}, "transform": [{"filter": "datum.p=='C1'"}], "mark": {"type": "area", "color": "#0000dd", "interpolate": "monotone"},
    "encoding": {"x": {"field": "t", "type": "quantitative", "scale": {"domain": [0,145]}, "axis": {"orient": "top", "values": [0,20,40,60,80,100,120,140], "labels": false, "title": null}},
     "y": {"field": "il", "type": "quantitative", "scale": {"domain": [0,450]}, "axis": {"orient": "right", "values": [0,50,100,150,200,250,300,350,400,450], "labels": false, "title": null}}, "y2": {"field": "ih"}}},
   {"data": {"name": "curves"}, "transform": [{"filter": "datum.p=='C1'"}], "mark": {"type": "line", "color": "#e0245a", "strokeWidth": 1.3, "interpolate": "monotone"},
    "encoding": {"x": {"field": "t", "type": "quantitative", "scale": {"domain": [0,145]}, "axis": null}, "y": {"field": "m", "type": "quantitative", "scale": {"domain": [0,450]}, "axis": null}}},
   {"data": {"name": "errs"}, "transform": [{"filter": "datum.p=='C1'"}], "mark": {"type": "rule", "clip": true},
    "encoding": {"x": {"field": "t", "type": "quantitative", "scale": {"domain": [0,145]}, "axis": null}, "y": {"field": "lo", "type": "quantitative", "scale": {"domain": [0,450]}, "axis": null}, "y2": {"field": "hi"}}},
   {"data": {"name": "errs"}, "transform": [{"filter": "datum.p=='C1'"}], "mark": {"type": "tick", "orient": "horizontal", "size": 24, "clip": true},
    "encoding": {"x": {"field": "t", "type": "quantitative", "scale": {"domain": [0,145]}, "axis": null}, "y": {"field": "lo", "type": "quantitative", "scale": {"domain": [0,450]}, "axis": null}}},
   {"data": {"name": "errs"}, "transform": [{"filter": "datum.p=='C1'"}], "mark": {"type": "tick", "orient": "horizontal", "size": 24, "clip": true},
    "encoding": {"x": {"field": "t", "type": "quantitative", "scale": {"domain": [0,145]}, "axis": null}, "y": {"field": "hi", "type": "quantitative", "scale": {"domain": [0,450]}, "axis": null}}},
   {"data": {"name": "errs"}, "transform": [{"filter": "datum.p=='C1'"}], "mark": {"type": "tick", "orient": "horizontal", "size": 5, "clip": true},
    "encoding": {"x": {"field": "t", "type": "quantitative", "scale": {"domain": [0,145]}, "axis": null}, "y": {"field": "m", "type": "quantitative", "scale": {"domain": [0,450]}, "axis": null}}},
   {"data": {"values": [{}]}, "mark": {"type": "text", "align": "left", "baseline": "bottom", "fontSize": 12, "fontWeight": "bold", "dx": -34, "dy": -5},
    "encoding": {"x": {"datum": 0, "type": "quantitative", "scale": {"domain": [0,145]}, "axis": null}, "y": {"datum": 450, "type": "quantitative", "scale": {"domain": [0,450]}, "axis": null}, "text": {"value": "(C)"}}}
  ]},
 {"width": 265, "height": 208, "resolve": {"axis": {"x": "independent", "y": "independent"}},
  "layer": [
   {"data": {"name": "curves"}, "transform": [{"filter": "datum.p=='C2'"}], "mark": {"type": "area", "color": "#9b9bfb", "interpolate": "monotone"},
    "encoding": {"x": {"field": "t", "type": "quantitative", "scale": {"domain": [0,145]}, "axis": {"values": [0,20,40,60,80,100,120,140], "title": "Time (hours)"}},
     "y": {"field": "ol", "type": "quantitative", "scale": {"domain": [0,450]}, "axis": {"values": [0,50,100,150,200,250,300,350,400,450], "title": "Creatinine (mM)", "titlePadding": 12}}, "y2": {"field": "oh"}}},
   {"data": {"name": "curves"}, "transform": [{"filter": "datum.p=='C2'"}], "mark": {"type": "area", "color": "#0000dd", "interpolate": "monotone"},
    "encoding": {"x": {"field": "t", "type": "quantitative", "scale": {"domain": [0,145]}, "axis": {"orient": "top", "values": [0,20,40,60,80,100,120,140], "labels": false, "title": null}},
     "y": {"field": "il", "type": "quantitative", "scale": {"domain": [0,450]}, "axis": {"orient": "right", "values": [0,50,100,150,200,250,300,350,400,450], "labels": false, "title": null}}, "y2": {"field": "ih"}}},
   {"data": {"name": "curves"}, "transform": [{"filter": "datum.p=='C2'"}], "mark": {"type": "line", "color": "#e0245a", "strokeWidth": 1.3, "interpolate": "monotone"},
    "encoding": {"x": {"field": "t", "type": "quantitative", "scale": {"domain": [0,145]}, "axis": null}, "y": {"field": "m", "type": "quantitative", "scale": {"domain": [0,450]}, "axis": null}}},
   {"data": {"name": "errs"}, "transform": [{"filter": "datum.p=='C2'"}], "mark": {"type": "rule", "clip": true},
    "encoding": {"x": {"field": "t", "type": "quantitative", "scale": {"domain": [0,145]}, "axis": null}, "y": {"field": "lo", "type": "quantitative", "scale": {"domain": [0,450]}, "axis": null}, "y2": {"field": "hi"}}},
   {"data": {"name": "errs"}, "transform": [{"filter": "datum.p=='C2'"}], "mark": {"type": "tick", "orient": "horizontal", "size": 24, "clip": true},
    "encoding": {"x": {"field": "t", "type": "quantitative", "scale": {"domain": [0,145]}, "axis": null}, "y": {"field": "lo", "type": "quantitative", "scale": {"domain": [0,450]}, "axis": null}}},
   {"data": {"name": "errs"}, "transform": [{"filter": "datum.p=='C2'"}], "mark": {"type": "tick", "orient": "horizontal", "size": 24, "clip": true},
    "encoding": {"x": {"field": "t", "type": "quantitative", "scale": {"domain": [0,145]}, "axis": null}, "y": {"field": "hi", "type": "quantitative", "scale": {"domain": [0,450]}, "axis": null}}},
   {"data": {"name": "errs"}, "transform": [{"filter": "datum.p=='C2'"}], "mark": {"type": "tick", "orient": "horizontal", "size": 5, "clip": true},
    "encoding": {"x": {"field": "t", "type": "quantitative", "scale": {"domain": [0,145]}, "axis": null}, "y": {"field": "m", "type": "quantitative", "scale": {"domain": [0,450]}, "axis": null}}}
  ]},
 {"width": 265, "height": 208, "resolve": {"axis": {"x": "independent", "y": "independent"}},
  "layer": [
   {"data": {"name": "curves"}, "transform": [{"filter": "datum.p=='D1'"}], "mark": {"type": "area", "color": "#9b9bfb", "interpolate": "monotone"},
    "encoding": {"x": {"field": "t", "type": "quantitative", "scale": {"domain": [0,145]}, "axis": {"values": [0,20,40,60,80,100,120,140], "title": "Time (hours)"}},
     "y": {"field": "ol", "type": "quantitative", "scale": {"domain": [0,20]}, "axis": {"values": [0,2,4,6,8,10,12,14,16,18,20], "title": ["Neutrophil Elastase/", "a1-PI Complex"], "titleLineHeight": 22, "titlePadding": 5}}, "y2": {"field": "oh"}}},
   {"data": {"name": "curves"}, "transform": [{"filter": "datum.p=='D1'"}], "mark": {"type": "area", "color": "#0000dd", "interpolate": "monotone"},
    "encoding": {"x": {"field": "t", "type": "quantitative", "scale": {"domain": [0,145]}, "axis": {"orient": "top", "values": [0,20,40,60,80,100,120,140], "labels": false, "title": null}},
     "y": {"field": "il", "type": "quantitative", "scale": {"domain": [0,20]}, "axis": {"orient": "right", "values": [0,2,4,6,8,10,12,14,16,18,20], "labels": false, "title": null}}, "y2": {"field": "ih"}}},
   {"data": {"name": "curves"}, "transform": [{"filter": "datum.p=='D1'"}], "mark": {"type": "line", "color": "#e0245a", "strokeWidth": 1.3, "interpolate": "monotone"},
    "encoding": {"x": {"field": "t", "type": "quantitative", "scale": {"domain": [0,145]}, "axis": null}, "y": {"field": "m", "type": "quantitative", "scale": {"domain": [0,20]}, "axis": null}}},
   {"data": {"name": "errs"}, "transform": [{"filter": "datum.p=='D1'"}], "mark": {"type": "rule", "clip": true},
    "encoding": {"x": {"field": "t", "type": "quantitative", "scale": {"domain": [0,145]}, "axis": null}, "y": {"field": "lo", "type": "quantitative", "scale": {"domain": [0,20]}, "axis": null}, "y2": {"field": "hi"}}},
   {"data": {"name": "errs"}, "transform": [{"filter": "datum.p=='D1'"}], "mark": {"type": "tick", "orient": "horizontal", "size": 24, "clip": true},
    "encoding": {"x": {"field": "t", "type": "quantitative", "scale": {"domain": [0,145]}, "axis": null}, "y": {"field": "lo", "type": "quantitative", "scale": {"domain": [0,20]}, "axis": null}}},
   {"data": {"name": "errs"}, "transform": [{"filter": "datum.p=='D1'"}], "mark": {"type": "tick", "orient": "horizontal", "size": 24, "clip": true},
    "encoding": {"x": {"field": "t", "type": "quantitative", "scale": {"domain": [0,145]}, "axis": null}, "y": {"field": "hi", "type": "quantitative", "scale": {"domain": [0,20]}, "axis": null}}},
   {"data": {"name": "errs"}, "transform": [{"filter": "datum.p=='D1'"}], "mark": {"type": "tick", "orient": "horizontal", "size": 5, "clip": true},
    "encoding": {"x": {"field": "t", "type": "quantitative", "scale": {"domain": [0,145]}, "axis": null}, "y": {"field": "m", "type": "quantitative", "scale": {"domain": [0,20]}, "axis": null}}},
   {"data": {"values": [{}]}, "mark": {"type": "text", "align": "left", "baseline": "bottom", "fontSize": 12, "fontWeight": "bold", "dx": -34, "dy": -5},
    "encoding": {"x": {"datum": 0, "type": "quantitative", "scale": {"domain": [0,145]}, "axis": null}, "y": {"datum": 20, "type": "quantitative", "scale": {"domain": [0,20]}, "axis": null}, "text": {"value": "(D)"}}}
  ]},
 {"width": 265, "height": 208, "resolve": {"axis": {"x": "independent", "y": "independent"}},
  "layer": [
   {"data": {"name": "curves"}, "transform": [{"filter": "datum.p=='D2'"}], "mark": {"type": "area", "color": "#9b9bfb", "interpolate": "monotone"},
    "encoding": {"x": {"field": "t", "type": "quantitative", "scale": {"domain": [0,145]}, "axis": {"values": [0,20,40,60,80,100,120,140], "title": "Time (hours)"}},
     "y": {"field": "ol", "type": "quantitative", "scale": {"domain": [0,20]}, "axis": {"values": [0,2,4,6,8,10,12,14,16,18,20], "title": ["Neutrophil Elastase/", "a1-PI Complex"], "titleLineHeight": 22, "titlePadding": 3}}, "y2": {"field": "oh"}}},
   {"data": {"name": "curves"}, "transform": [{"filter": "datum.p=='D2'"}], "mark": {"type": "area", "color": "#0000dd", "interpolate": "monotone"},
    "encoding": {"x": {"field": "t", "type": "quantitative", "scale": {"domain": [0,145]}, "axis": {"orient": "top", "values": [0,20,40,60,80,100,120,140], "labels": false, "title": null}},
     "y": {"field": "il", "type": "quantitative", "scale": {"domain": [0,20]}, "axis": {"orient": "right", "values": [0,2,4,6,8,10,12,14,16,18,20], "labels": false, "title": null}}, "y2": {"field": "ih"}}},
   {"data": {"name": "curves"}, "transform": [{"filter": "datum.p=='D2'"}], "mark": {"type": "line", "color": "#e0245a", "strokeWidth": 1.3, "interpolate": "monotone"},
    "encoding": {"x": {"field": "t", "type": "quantitative", "scale": {"domain": [0,145]}, "axis": null}, "y": {"field": "m", "type": "quantitative", "scale": {"domain": [0,20]}, "axis": null}}},
   {"data": {"name": "errs"}, "transform": [{"filter": "datum.p=='D2'"}], "mark": {"type": "rule", "clip": true},
    "encoding": {"x": {"field": "t", "type": "quantitative", "scale": {"domain": [0,145]}, "axis": null}, "y": {"field": "lo", "type": "quantitative", "scale": {"domain": [0,20]}, "axis": null}, "y2": {"field": "hi"}}},
   {"data": {"name": "errs"}, "transform": [{"filter": "datum.p=='D2'"}], "mark": {"type": "tick", "orient": "horizontal", "size": 24, "clip": true},
    "encoding": {"x": {"field": "t", "type": "quantitative", "scale": {"domain": [0,145]}, "axis": null}, "y": {"field": "lo", "type": "quantitative", "scale": {"domain": [0,20]}, "axis": null}}},
   {"data": {"name": "errs"}, "transform": [{"filter": "datum.p=='D2'"}], "mark": {"type": "tick", "orient": "horizontal", "size": 24, "clip": true},
    "encoding": {"x": {"field": "t", "type": "quantitative", "scale": {"domain": [0,145]}, "axis": null}, "y": {"field": "hi", "type": "quantitative", "scale": {"domain": [0,20]}, "axis": null}}},
   {"data": {"name": "errs"}, "transform": [{"filter": "datum.p=='D2'"}], "mark": {"type": "tick", "orient": "horizontal", "size": 5, "clip": true},
    "encoding": {"x": {"field": "t", "type": "quantitative", "scale": {"domain": [0,145]}, "axis": null}, "y": {"field": "m", "type": "quantitative", "scale": {"domain": [0,20]}, "axis": null}}}
  ]},
 {"width": 265, "height": 208, "resolve": {"axis": {"x": "independent", "y": "independent"}},
  "layer": [
   {"data": {"name": "curves"}, "transform": [{"filter": "datum.p=='E1'"}], "mark": {"type": "area", "color": "#9b9bfb", "interpolate": "monotone"},
    "encoding": {"x": {"field": "t", "type": "quantitative", "scale": {"domain": [0,145]}, "axis": {"values": [0,20,40,60,80,100,120,140], "title": "Time (hours)"}},
     "y": {"field": "ol", "type": "quantitative", "scale": {"domain": [0,40]}, "axis": {"values": [0,5,10,15,20,25,30,35,40], "title": ["White Blood Cells", "(10³ Cells/ul)"], "titleLineHeight": 20, "titlePadding": 8}}, "y2": {"field": "oh"}}},
   {"data": {"name": "curves"}, "transform": [{"filter": "datum.p=='E1'"}], "mark": {"type": "area", "color": "#0000dd", "interpolate": "monotone"},
    "encoding": {"x": {"field": "t", "type": "quantitative", "scale": {"domain": [0,145]}, "axis": {"orient": "top", "values": [0,20,40,60,80,100,120,140], "labels": false, "title": null}},
     "y": {"field": "il", "type": "quantitative", "scale": {"domain": [0,40]}, "axis": {"orient": "right", "values": [0,5,10,15,20,25,30,35,40], "labels": false, "title": null}}, "y2": {"field": "ih"}}},
   {"data": {"name": "curves"}, "transform": [{"filter": "datum.p=='E1'"}], "mark": {"type": "line", "color": "#e0245a", "strokeWidth": 1.3, "interpolate": "monotone"},
    "encoding": {"x": {"field": "t", "type": "quantitative", "scale": {"domain": [0,145]}, "axis": null}, "y": {"field": "m", "type": "quantitative", "scale": {"domain": [0,40]}, "axis": null}}},
   {"data": {"name": "errs"}, "transform": [{"filter": "datum.p=='E1'"}], "mark": {"type": "rule", "clip": true},
    "encoding": {"x": {"field": "t", "type": "quantitative", "scale": {"domain": [0,145]}, "axis": null}, "y": {"field": "lo", "type": "quantitative", "scale": {"domain": [0,40]}, "axis": null}, "y2": {"field": "hi"}}},
   {"data": {"name": "errs"}, "transform": [{"filter": "datum.p=='E1'"}], "mark": {"type": "tick", "orient": "horizontal", "size": 24, "clip": true},
    "encoding": {"x": {"field": "t", "type": "quantitative", "scale": {"domain": [0,145]}, "axis": null}, "y": {"field": "lo", "type": "quantitative", "scale": {"domain": [0,40]}, "axis": null}}},
   {"data": {"name": "errs"}, "transform": [{"filter": "datum.p=='E1'"}], "mark": {"type": "tick", "orient": "horizontal", "size": 24, "clip": true},
    "encoding": {"x": {"field": "t", "type": "quantitative", "scale": {"domain": [0,145]}, "axis": null}, "y": {"field": "hi", "type": "quantitative", "scale": {"domain": [0,40]}, "axis": null}}},
   {"data": {"name": "errs"}, "transform": [{"filter": "datum.p=='E1'"}], "mark": {"type": "tick", "orient": "horizontal", "size": 5, "clip": true},
    "encoding": {"x": {"field": "t", "type": "quantitative", "scale": {"domain": [0,145]}, "axis": null}, "y": {"field": "m", "type": "quantitative", "scale": {"domain": [0,40]}, "axis": null}}},
   {"data": {"values": [{}]}, "mark": {"type": "text", "align": "left", "baseline": "bottom", "fontSize": 12, "fontWeight": "bold", "dx": -34, "dy": -7},
    "encoding": {"x": {"datum": 0, "type": "quantitative", "scale": {"domain": [0,145]}, "axis": null}, "y": {"datum": 40, "type": "quantitative", "scale": {"domain": [0,40]}, "axis": null}, "text": {"value": "(E)"}}}
  ]},
 {"width": 265, "height": 208, "resolve": {"axis": {"x": "independent", "y": "independent"}},
  "layer": [
   {"data": {"name": "curves"}, "transform": [{"filter": "datum.p=='E2'"}], "mark": {"type": "area", "color": "#9b9bfb", "interpolate": "monotone"},
    "encoding": {"x": {"field": "t", "type": "quantitative", "scale": {"domain": [0,145]}, "axis": {"values": [0,20,40,60,80,100,120,140], "title": "Time (hours)"}},
     "y": {"field": "ol", "type": "quantitative", "scale": {"domain": [0,40]}, "axis": {"values": [0,5,10,15,20,25,30,35,40], "title": ["White Blood Cells", "(10³ Cells/ul)"], "titleLineHeight": 20, "titlePadding": 5}}, "y2": {"field": "oh"}}},
   {"data": {"name": "curves"}, "transform": [{"filter": "datum.p=='E2'"}], "mark": {"type": "area", "color": "#0000dd", "interpolate": "monotone"},
    "encoding": {"x": {"field": "t", "type": "quantitative", "scale": {"domain": [0,145]}, "axis": {"orient": "top", "values": [0,20,40,60,80,100,120,140], "labels": false, "title": null}},
     "y": {"field": "il", "type": "quantitative", "scale": {"domain": [0,40]}, "axis": {"orient": "right", "values": [0,5,10,15,20,25,30,35,40], "labels": false, "title": null}}, "y2": {"field": "ih"}}},
   {"data": {"name": "curves"}, "transform": [{"filter": "datum.p=='E2'"}], "mark": {"type": "line", "color": "#e0245a", "strokeWidth": 1.3, "interpolate": "monotone"},
    "encoding": {"x": {"field": "t", "type": "quantitative", "scale": {"domain": [0,145]}, "axis": null}, "y": {"field": "m", "type": "quantitative", "scale": {"domain": [0,40]}, "axis": null}}},
   {"data": {"name": "errs"}, "transform": [{"filter": "datum.p=='E2'"}], "mark": {"type": "rule", "clip": true},
    "encoding": {"x": {"field": "t", "type": "quantitative", "scale": {"domain": [0,145]}, "axis": null}, "y": {"field": "lo", "type": "quantitative", "scale": {"domain": [0,40]}, "axis": null}, "y2": {"field": "hi"}}},
   {"data": {"name": "errs"}, "transform": [{"filter": "datum.p=='E2'"}], "mark": {"type": "tick", "orient": "horizontal", "size": 24, "clip": true},
    "encoding": {"x": {"field": "t", "type": "quantitative", "scale": {"domain": [0,145]}, "axis": null}, "y": {"field": "lo", "type": "quantitative", "scale": {"domain": [0,40]}, "axis": null}}},
   {"data": {"name": "errs"}, "transform": [{"filter": "datum.p=='E2'"}], "mark": {"type": "tick", "orient": "horizontal", "size": 24, "clip": true},
    "encoding": {"x": {"field": "t", "type": "quantitative", "scale": {"domain": [0,145]}, "axis": null}, "y": {"field": "hi", "type": "quantitative", "scale": {"domain": [0,40]}, "axis": null}}},
   {"data": {"name": "errs"}, "transform": [{"filter": "datum.p=='E2'"}], "mark": {"type": "tick", "orient": "horizontal", "size": 5, "clip": true},
    "encoding": {"x": {"field": "t", "type": "quantitative", "scale": {"domain": [0,145]}, "axis": null}, "y": {"field": "m", "type": "quantitative", "scale": {"domain": [0,40]}, "axis": null}}}
  ]}
]
}
